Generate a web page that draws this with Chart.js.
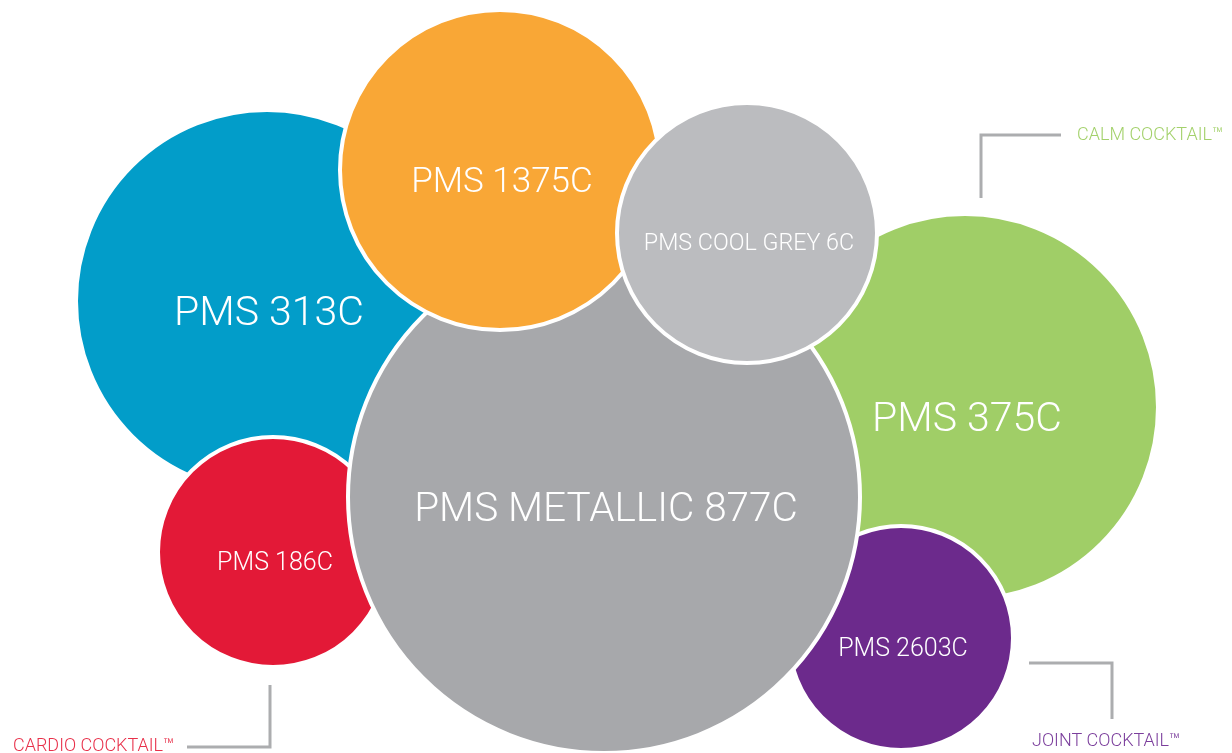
<!DOCTYPE html>
<html>
<head>
<meta charset="utf-8">
<script src="https://cdn.jsdelivr.net/npm/chart.js@4.4.1/dist/chart.umd.min.js"></script>
<style>
  html, body { margin: 0; padding: 0; background: #fff; }
  #wrap { width: 1232px; height: 753px; position: relative; }
</style>
</head>
<body>
<div id="wrap"><canvas id="myChart"></canvas></div>
<script>
// bubbles, listed bottom layer first
const names   = ['PMS 313C', 'PMS 375C', 'PMS 186C', 'PMS 2603C', 'PMS METALLIC 877C', 'PMS 1375C', 'PMS COOL GREY 6C'];
const xPos    = [267, 965, 273, 901, 604, 500, 747];
const yPos    = [301, 407, 552, 638, 497, 170, 233];
const radii   = [191, 193, 115, 112, 256, 160, 130];
const colors  = ['#029dc9', '#a0ce67', '#e31937', '#6c2a8c', '#a7a8ab', '#f9a736', '#bbbcbf'];
const fontPx  = [41, 41, 25, 25, 40.5, 35, 23.3];

// callouts: text, colour, line path (in chart units)
const callouts = [
  { text: 'CALM COCKTAIL\u2122',   color: '#a3d16b', tx: 1077, ty: 135, path: [[981, 198], [981, 135], [1061, 135]] },
  { text: 'CARDIO COCKTAIL\u2122', color: '#e8304a', tx: 13,   ty: 746, path: [[187, 747], [270, 747], [270, 685]] },
  { text: 'JOINT COCKTAIL\u2122',  color: '#7b3e9c', tx: 1032, ty: 741, path: [[1029, 663], [1112, 663], [1112, 719]] }
];

const points = names.map((n, i) => ({ x: xPos[i], y: yPos[i], r: radii[i] }));

const labelPlugin = {
  id: 'labels',
  afterDatasetsDraw(chart) {
    const ctx = chart.ctx;
    const xs = chart.scales.x, ys = chart.scales.y;
    ctx.save();
    // callout lines + texts
    callouts.forEach(c => {
      ctx.beginPath();
      c.path.forEach((p, k) => {
        const px = xs.getPixelForValue(p[0]), py = ys.getPixelForValue(p[1]);
        if (k === 0) ctx.moveTo(px, py); else ctx.lineTo(px, py);
      });
      ctx.strokeStyle = '#acadaf';
      ctx.lineWidth = 3;
      ctx.lineCap = 'butt';
      ctx.lineJoin = 'miter';
      ctx.stroke();
      ctx.fillStyle = c.color;
      ctx.font = '300 18px Roboto';
      ctx.textAlign = 'left';
      ctx.textBaseline = 'middle';
      ctx.fillText(c.text, xs.getPixelForValue(c.tx), ys.getPixelForValue(c.ty));
    });
    // bubble labels
    const meta = chart.getDatasetMeta(0);
    meta.data.forEach((el, i) => {
      const fs = fontPx[i];
      ctx.font = '300 ' + fs + 'px Roboto';
      ctx.fillStyle = '#ffffff';
      ctx.textAlign = 'center';
      ctx.textBaseline = 'alphabetic';
      ctx.fillText(names[i], el.x + 2, el.y + fs * 0.36 + 9);
    });
    ctx.restore();
  }
};

new Chart('myChart', {
  type: 'bubble',
  data: {
    datasets: [{
      data: points,
      backgroundColor: colors,
      borderColor: '#ffffff',
      borderWidth: 4,
      clip: false
    }]
  },
  options: {
    responsive: true,
    maintainAspectRatio: false,
    animation: false,
    events: [],
    layout: { padding: 0, autoPadding: false },
    plugins: { legend: { display: false }, tooltip: { enabled: false } },
    scales: {
      x: { type: 'linear', display: false, min: 0, max: 1232 },
      y: { type: 'linear', display: false, min: 0, max: 753, reverse: true }
    }
  },
  plugins: [labelPlugin]
});
</script>
</body>
</html>
